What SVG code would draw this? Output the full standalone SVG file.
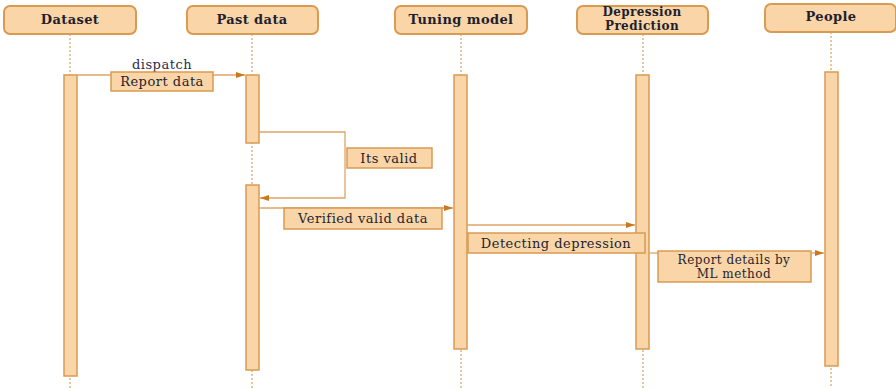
<svg xmlns="http://www.w3.org/2000/svg" width="896" height="388" viewBox="0 0 896 388" font-family="'DejaVu Serif', 'Liberation Serif', serif">
<defs>
<style>
text{font-family:'DejaVu Serif','Liberation Serif',serif}
.hdr{fill:#f9d5a8;stroke:#d99a52;stroke-width:2}
.ht{font-weight:bold;font-size:13px;letter-spacing:0.4px;fill:#1f1f2e;text-anchor:middle}
.life{stroke:#d9a060;stroke-width:1.2;stroke-dasharray:2,2;fill:none}
.bar{fill:#f9d5a8;stroke:#d99a52;stroke-width:1.5}
.lbl{fill:#f9d5a8;stroke:#d99a52;stroke-width:1.5}
.lt{font-size:13px;letter-spacing:0.5px;fill:#1f1f2e;text-anchor:middle}
.msg{stroke:#e0a468;stroke-width:1.3;fill:none}
</style>
<marker id="ah" markerWidth="10" markerHeight="8" refX="9" refY="4" orient="auto" markerUnits="userSpaceOnUse">
<path d="M0,1 L9,4 L0,7 Z" fill="#c9781e"/>
</marker>
</defs>
<rect width="896" height="388" fill="#ffffff"/>
<g id="lifelines">
<line class="life" x1="70" y1="34" x2="70" y2="388"/>
<line class="life" x1="252" y1="34" x2="252" y2="388"/>
<line class="life" x1="461" y1="34" x2="461" y2="388"/>
<line class="life" x1="643" y1="34" x2="643" y2="388"/>
<line class="life" x1="831" y1="32" x2="831" y2="388"/>
</g>
<g id="dataset">
<rect class="hdr" x="4" y="6" width="132" height="28" rx="6"/>
<text class="ht" x="70" y="24">Dataset</text>
<rect class="bar" x="64" y="75" width="13" height="301"/>
</g>
<g id="pastdata">
<rect class="hdr" x="187" y="6" width="131" height="28" rx="6"/>
<text class="ht" x="252" y="24">Past data</text>
<rect class="bar" x="246" y="75" width="13" height="68"/>
<rect class="bar" x="246" y="185" width="13" height="185"/>
</g>
<g id="tuning">
<rect class="hdr" x="395" y="6" width="132" height="28" rx="6"/>
<text class="ht" x="461" y="24">Tuning model</text>
<rect class="bar" x="454" y="75" width="13" height="274"/>
</g>
<g id="depression">
<rect class="hdr" x="577" y="6" width="131" height="28" rx="6"/>
<text class="ht" x="642" y="16" style="font-size:12px">Depression</text>
<text class="ht" x="642" y="29.5" style="font-size:12px">Prediction</text>
<rect class="bar" x="636" y="75" width="13" height="274"/>
</g>
<g id="people">
<rect class="hdr" x="765" y="4" width="131" height="28" rx="6"/>
<text class="ht" x="831" y="21">People</text>
<rect class="bar" x="825" y="72" width="13" height="294"/>
</g>
<g id="connectors">
<line class="msg" x1="77" y1="75" x2="245" y2="75" marker-end="url(#ah)"/>
<polyline class="msg" points="259,132 345,132 345,198 260,198" marker-end="url(#ah)"/>
<line class="msg" x1="259" y1="208" x2="453" y2="208" marker-end="url(#ah)"/>
<line class="msg" x1="467" y1="225" x2="635" y2="225" marker-end="url(#ah)"/>
<line class="msg" x1="649" y1="253" x2="658" y2="253"/>
<line class="msg" x1="811" y1="253" x2="824" y2="253" marker-end="url(#ah)"/>
<text class="lt" x="162" y="69" style="fill:#2b2b4b">dispatch</text>
<rect class="lbl" x="111" y="72" width="102" height="19"/>
<text class="lt" x="162" y="86">Report data</text>
<rect class="lbl" x="347" y="148" width="85" height="20"/>
<text class="lt" x="389" y="162.5">Its valid</text>
<rect class="lbl" x="284" y="208" width="158" height="21"/>
<text class="lt" x="363" y="223">Verified valid data</text>
<rect class="lbl" x="468" y="233" width="177" height="20"/>
<text class="lt" x="556" y="247.5">Detecting depression</text>
<rect class="lbl" x="658" y="251" width="153" height="31"/>
<text class="lt" x="734" y="263.5" style="font-size:12px">Report details by</text>
<text class="lt" x="734" y="277.5" style="font-size:12px">ML method</text>
</g>
</svg>
